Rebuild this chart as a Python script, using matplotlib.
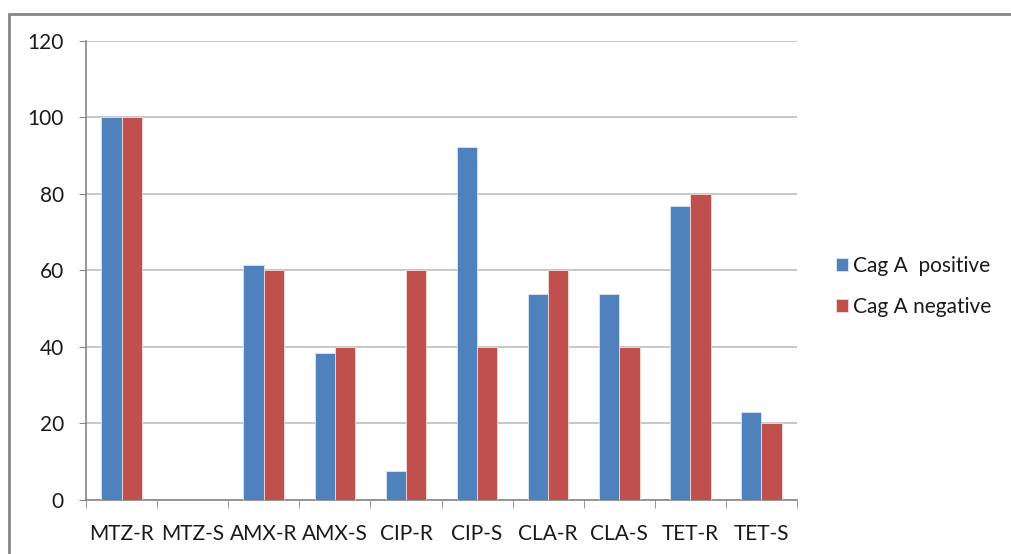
import numpy as np
import matplotlib.pyplot as plt
from matplotlib.patches import Rectangle

# antibiotic susceptibility by CagA status (%)
categories = ['MTZ-R', 'MTZ-S', 'AMX-R', 'AMX-S', 'CIP-R',
              'CIP-S', 'CLA-R', 'CLA-S', 'TET-R', 'TET-S']
cag_pos = [100, 0, 61.5, 38.5, 7.7, 92.3, 53.8, 53.8, 76.9, 23.1]
cag_neg = [100, 0, 60, 40, 60, 40, 60, 40, 80, 20]
y_ticks = [0, 20, 40, 60, 80, 100, 120]

plt.rcParams['font.family'] = ['Lato', 'DejaVu Sans']

fig = plt.figure(figsize=(10.11, 5.54), dpi=100)
ax = fig.add_axes([0.0851, 0.0975, 0.7032, 0.8285])

# outer chart border, running off the right and bottom edges
fig.patches.append(Rectangle((0.009, -0.05), 1.1, 1.025,
                             transform=fig.transFigure, fill=False,
                             edgecolor='#868686', linewidth=2))

x = np.arange(len(categories))
w = 1 / 3.5
ax.bar(x - w / 2, cag_pos, w, color='#4F81BD', edgecolor='#DCE6F2',
       linewidth=0.6, label='Cag A  positive', zorder=3)
ax.bar(x + w / 2, cag_neg, w, color='#C0504D', edgecolor='#F2DCDB',
       linewidth=0.6, label='Cag A negative', zorder=3)

ax.set_xlim(-0.5, len(categories) - 0.5)
ax.set_ylim(0, 120)
ax.set_yticks(y_ticks)
ax.tick_params(axis='y', labelsize=15, length=5, color='#868686',
               pad=11, labelcolor='#1a1a1a')

# category labels centred, tick marks on the boundaries
ax.set_xticks(x)
ax.set_xticklabels(categories, fontsize=15, color='#1a1a1a')
ax.tick_params(axis='x', length=0, pad=17)
ax.set_xticks(np.arange(-0.5, len(categories)), minor=True)
ax.tick_params(axis='x', which='minor', length=6, color='#868686')

ax.yaxis.grid(True, color='#BEBEBE', linewidth=1.2)
ax.set_axisbelow(True)
for s in ['top', 'right']:
    ax.spines[s].set_visible(False)
for s in ['left', 'bottom']:
    ax.spines[s].set_color('#868686')
    ax.spines[s].set_linewidth(1.2)

leg = ax.legend(loc='center left', bbox_to_anchor=(1.028, 0.465),
                frameon=False, fontsize=15, handlelength=0.6,
                handleheight=0.6, handletextpad=0.25, labelspacing=1.0)
for t in leg.get_texts():
    t.set_color('#1a1a1a')

fig.savefig('out.png', dpi=100)
